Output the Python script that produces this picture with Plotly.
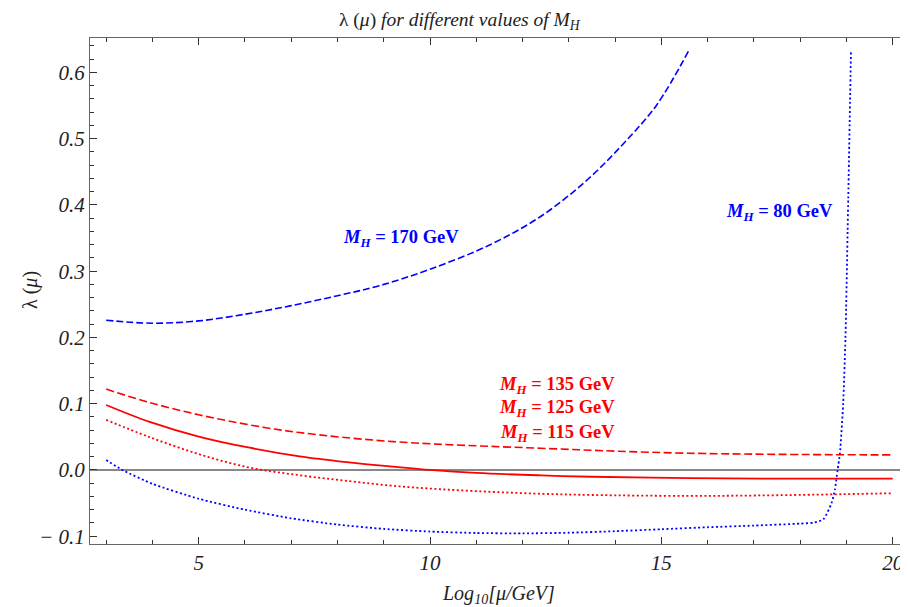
import plotly.graph_objects as go

# ---- data ----
x_170 = [3.0, 4.0, 5.0, 6.0, 7.0, 8.0, 8.9, 10.0, 11.3, 12.4, 13.4, 14.2, 14.9, 15.6]
y_170 = [0.226, 0.2215, 0.225, 0.235, 0.248, 0.263, 0.278, 0.303, 0.340, 0.383, 0.438, 0.494, 0.551, 0.634]

x_80 = [3.0, 3.35, 4.0, 5.0, 6.0, 7.0, 8.0, 9.0, 10.0, 11.0, 12.0, 13.0, 14.0, 15.0, 16.0, 17.0, 18.0,
        18.3, 18.5, 18.68, 18.75, 18.81, 18.86, 18.93, 18.98, 19.04, 19.1]
y_80 = [0.015, 0.0, -0.021, -0.0435, -0.060, -0.073, -0.0825, -0.089, -0.093, -0.0952, -0.0958,
        -0.0948, -0.0925, -0.0895, -0.0865, -0.084, -0.081,
        -0.0795, -0.0745, -0.050, -0.030, 0.0, 0.025, 0.10, 0.20, 0.41, 0.634]

x_135 = [3.0, 3.94, 5.02, 6.1, 7.18, 9.2, 12.4, 15.6, 20.0]
y_135 = [0.122, 0.1017, 0.083, 0.068, 0.0564, 0.0428, 0.0327, 0.0252, 0.0227]

x_125 = [3.0, 3.94, 5.02, 6.1, 7.18, 8.2, 9.2, 10.0, 11.0, 12.4, 13.5, 15.6, 17.5, 20.0]
y_125 = [0.098, 0.0725, 0.050, 0.0335, 0.0205, 0.0118, 0.005, 0.0, -0.0045, -0.0082, -0.0103, -0.0124, -0.0131, -0.013]

x_115 = [3.0, 3.94, 5.02, 6.1, 7.18, 8.2, 9.2, 10.2, 11.3, 12.4, 13.5, 15.6, 17.5, 20.0]
y_115 = [0.0755, 0.0495, 0.0235, 0.0035, -0.008, -0.0165, -0.024, -0.029, -0.033, -0.036, -0.0378, -0.0392, -0.0382, -0.0352]

label_mass = ["170", "80", "135", "125", "115"]
label_x = [9.37, 17.56, 12.75, 12.75, 12.75]
label_y = [0.350, 0.388, 0.128, 0.092, 0.0554]
label_col = ["#0000ff", "#0000ff", "#ff0000", "#ff0000", "#ff0000"]

BLUE = "#0000ff"
RED = "#ff0000"
FONT = "Liberation Serif"

fig = go.Figure()
fig.add_trace(go.Scatter(x=x_170, y=y_170, mode="lines", line=dict(color=BLUE, width=1.6, dash="7px,3px", shape="spline")))
fig.add_trace(go.Scatter(x=x_80, y=y_80, mode="lines", line=dict(color=BLUE, width=1.8, dash="2px,2.5px", shape="spline", smoothing=0.6)))
fig.add_trace(go.Scatter(x=x_135, y=y_135, mode="lines", line=dict(color=RED, width=1.6, dash="8px,3.5px", shape="spline")))
fig.add_trace(go.Scatter(x=x_125, y=y_125, mode="lines", line=dict(color=RED, width=1.8, shape="spline")))
fig.add_trace(go.Scatter(x=x_115, y=y_115, mode="lines", line=dict(color=RED, width=1.8, dash="2px,2.5px", shape="spline")))

for m, lx, ly, c in zip(label_mass, label_x, label_y, label_col):
    fig.add_annotation(x=lx, y=ly, xref="x", yref="y", showarrow=False,
                       text="<b><i>M</i><sub><i>H</i></sub> = " + m + " GeV</b>",
                       font=dict(family=FONT, size=18.5, color=c))

OFF = 8  # page body margin
L, R, T, B = 82, 1, 30, 63
W, H = 900, 599
pw = W - L - R
ph = H - T - B


def px(xr):
    return (xr - OFF - L) / pw


def py(yr):
    return (H - B - (yr - OFF)) / ph


# title
fig.add_annotation(xref="paper", yref="paper", x=px(460), y=py(21), showarrow=False,
                   text="λ (<i>μ</i>) <i>for different values of M<sub>H</sub></i>",
                   font=dict(family=FONT, size=19.5, color="#222"), xanchor="center", yanchor="middle")
# y axis title
fig.add_annotation(xref="paper", yref="paper", x=px(30), y=py(290), showarrow=False,
                   text="λ (<i>μ</i>)", textangle=-90,
                   font=dict(family=FONT, size=20, color="#222"), xanchor="center", yanchor="middle")
# x axis title
fig.add_annotation(xref="paper", yref="paper", x=px(498), y=py(594), showarrow=False,
                   text="<i>Log<sub>10</sub>[μ/GeV]</i>",
                   font=dict(family=FONT, size=20, color="#222"), xanchor="center", yanchor="middle")

fig.update_layout(
    width=W, height=H, showlegend=False,
    margin=dict(l=L, r=R, t=T, b=B),
    plot_bgcolor="white", paper_bgcolor="white",
    xaxis=dict(range=[2.65, 20.31], tickvals=[5, 10, 15, 20], ticks="inside", ticklen=7, tickwidth=1,
               tickcolor="#333", showline=True, linecolor="#666", linewidth=1, mirror="ticks",
               showgrid=False, zeroline=False,
               minor=dict(dtick=1, ticks="inside", ticklen=4, tickcolor="#333", showgrid=False),
               tickfont=dict(family=FONT, size=21, color="#222", style="italic")),
    yaxis=dict(range=[-0.1118, 0.652], tickvals=[-0.1, 0.0, 0.1, 0.2, 0.3, 0.4, 0.5, 0.6],
               ticktext=["\u2212 0.1", "0.0", "0.1", "0.2", "0.3", "0.4", "0.5", "0.6"],
               ticks="inside", ticklen=7, tickwidth=1, tickcolor="#333",
               showline=True, linecolor="#666", linewidth=1, mirror="ticks",
               showgrid=False, zeroline=True, zerolinecolor="#888", zerolinewidth=1.6,
               minor=dict(dtick=0.02, tick0=0, ticks="inside", ticklen=4, tickcolor="#333", showgrid=False),
               tickfont=dict(family=FONT, size=21, color="#222", style="italic")),
)

fig.write_html("out.html")
